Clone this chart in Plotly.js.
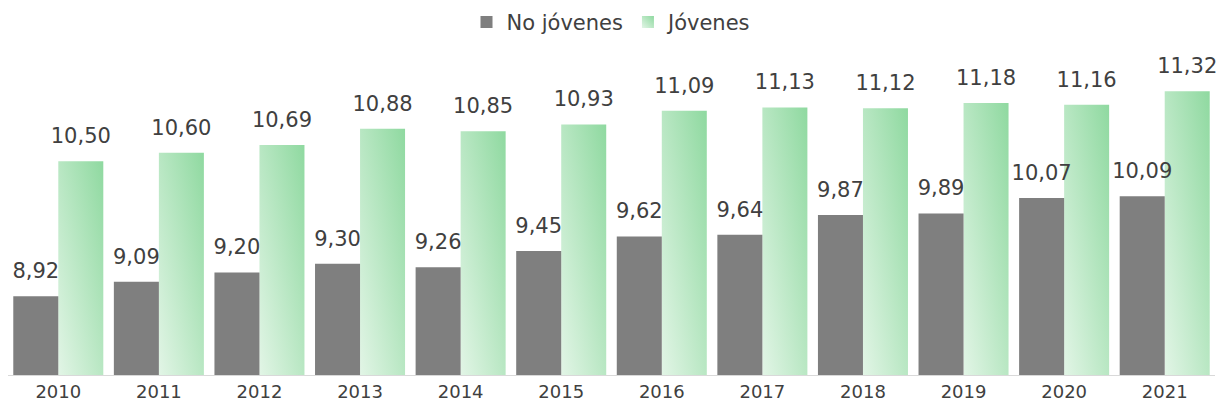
<!DOCTYPE html>
<html><head><meta charset="utf-8">
<script src="https://cdn.plot.ly/plotly-3.0.1.min.js"></script>
<style>html,body{margin:0;padding:0;background:#fff;}</style>
</head><body>
<div id="chart" style="width:1221px;height:416px;"></div>
<script>
const years = ['2010','2011','2012','2013','2014','2015','2016','2017','2018','2019','2020','2021'];
const noJovenes = [8.92, 9.09, 9.20, 9.30, 9.26, 9.45, 9.62, 9.64, 9.87, 9.89, 10.07, 10.09];
const jovenes = [10.50, 10.60, 10.69, 10.88, 10.85, 10.93, 11.09, 11.13, 11.12, 11.18, 11.16, 11.32];
const AXIS_MIN = 8;
const fmt = v => v.toFixed(2).replace('.', ',');
const FONT = '"DejaVu Sans", sans-serif';

const traces = [
  {type:'bar', name:'No jóvenes', x: years, y: noJovenes.map(v => v - AXIS_MIN), base: AXIS_MIN,
   marker:{color:'#7f7f7f'}, text: noJovenes.map(fmt), textposition:'outside', constraintext:'none',
   cliponaxis:false, textfont:{size:21, color:'#404040', family: FONT}, hoverinfo:'none'},
  {type:'bar', name:'Jóvenes', x: years, y: jovenes.map(v => v - AXIS_MIN), base: AXIS_MIN,
   marker:{color:'#a9e3b6'}, text: jovenes.map(fmt), textposition:'outside', constraintext:'none',
   cliponaxis:false, textfont:{size:21, color:'#404040', family: FONT}, hoverinfo:'none'}
];

const layout = {
  width:1221, height:416,
  margin:{l:8, r:6, t:0, b:41, autoexpand:false},
  paper_bgcolor:'#fff', plot_bgcolor:'#fff',
  barmode:'group', bargap:0.105, bargroupgap:0,
  font:{family: FONT, color:'#404040'},
  showlegend:true,
  legend:{orientation:'h', x:0.5, xanchor:'center', y:0.995, yanchor:'top',
          font:{size:21, color:'#404040', family: FONT}, itemwidth:30, traceorder:'normal'},
  xaxis:{type:'category', showline:true, linecolor:'#d9d9d9', linewidth:1, ticks:'',
         tickfont:{size:18, color:'#404040', family: FONT}, showgrid:false, zeroline:false, automargin:false},
  yaxis:{range:[8, 8 + 375/85.5], visible:false, showgrid:false, zeroline:false}
};

Plotly.newPlot('chart', traces, layout, {displayModeBar:false, staticPlot:true}).then(gd => {
  const svg = gd.querySelector('svg.main-svg');
  const ns = 'http://www.w3.org/2000/svg';
  let defs = svg.querySelector('defs');
  const lg = document.createElementNS(ns, 'linearGradient');
  lg.setAttribute('id', 'greenGrad');
  lg.setAttribute('x1','0'); lg.setAttribute('y1','1');
  lg.setAttribute('x2','1'); lg.setAttribute('y2','0');
  [['0','#e2f5e6'],['1','#8fd9a0']].forEach(([o,c]) => {
    const s = document.createElementNS(ns,'stop');
    s.setAttribute('offset', o); s.setAttribute('stop-color', c);
    lg.appendChild(s);
  });
  defs.appendChild(lg);
  const traceGroups = gd.querySelectorAll('.barlayer .trace');
  if (traceGroups[1]) {
    traceGroups[1].querySelectorAll('.point path').forEach(p => { p.style.fill = 'url(#greenGrad)'; });
  }
  // lift the value labels a little further above the bars
  gd.querySelectorAll('.barlayer .trace .point text').forEach(t => {
    const tr = t.getAttribute('transform') || '';
    t.setAttribute('transform', 'translate(0,-10) ' + tr);
  });
  // draw grey trace (and its labels) above the green bars so labels are not hidden
  if (traceGroups[0] && traceGroups[0].parentNode) {
    traceGroups[0].parentNode.appendChild(traceGroups[0]);
  }
  const legPts = gd.querySelectorAll('.legend .traces');
  if (legPts[1]) {
    legPts[1].querySelectorAll('.legendpoints path').forEach(p => { p.style.fill = 'url(#greenGrad)'; });
  }
});
</script>
</body></html>
